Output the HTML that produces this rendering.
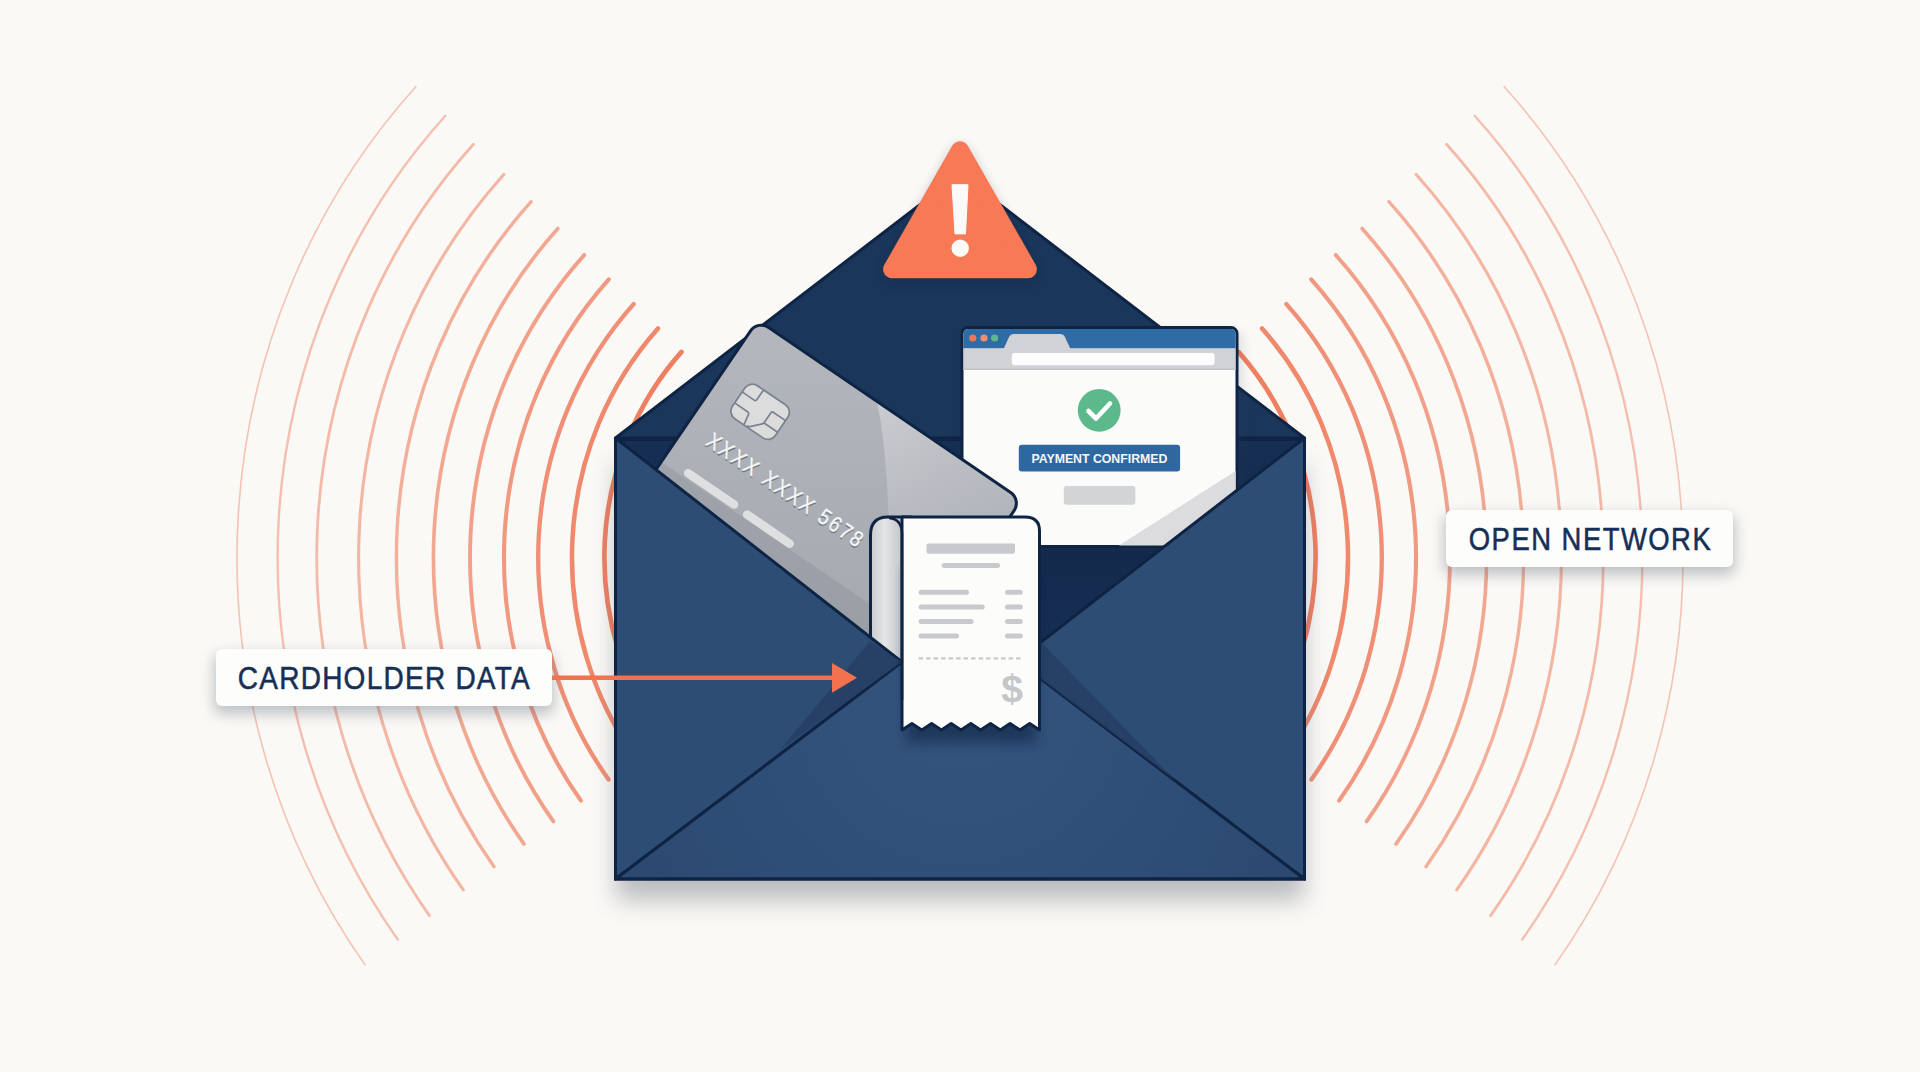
<!DOCTYPE html>
<html><head><meta charset="utf-8">
<style>
html,body{margin:0;padding:0;width:1920px;height:1072px;overflow:hidden;background:#faf9f6;}
svg{display:block;}
text{font-family:"Liberation Sans",sans-serif;}
</style></head>
<body>
<svg width="1920" height="1072" viewBox="0 0 1920 1072">
<defs>
  <filter id="blur12" x="-20%" y="-20%" width="140%" height="140%"><feGaussianBlur stdDeviation="12"/></filter>
  <filter id="blur6" x="-30%" y="-30%" width="160%" height="160%"><feGaussianBlur stdDeviation="6"/></filter>
  <filter id="blur7" x="-30%" y="-30%" width="160%" height="160%"><feGaussianBlur stdDeviation="7"/></filter>
  <filter id="blur4" x="-30%" y="-30%" width="160%" height="160%"><feGaussianBlur stdDeviation="4"/></filter>
  <linearGradient id="cardg" x1="0" y1="0" x2="1" y2="1">
    <stop offset="0" stop-color="#b4b7bd"/><stop offset="1" stop-color="#a3a7ae"/>
  </linearGradient>
  <linearGradient id="rollg" x1="0" y1="0" x2="1" y2="0">
    <stop offset="0" stop-color="#c9cacd"/><stop offset="0.35" stop-color="#e4e5e7"/><stop offset="0.6" stop-color="#d2d3d6"/><stop offset="1" stop-color="#b5b7bb"/>
  </linearGradient>
  <linearGradient id="pocketg" x1="0" y1="0" x2="0" y2="1">
    <stop offset="0" stop-color="#172f54"/><stop offset="0.25" stop-color="#13294c"/><stop offset="0.5" stop-color="#182f55"/><stop offset="1" stop-color="#1a3358"/>
  </linearGradient>
  <radialGradient id="bottomg" cx="960" cy="700" r="380" gradientUnits="userSpaceOnUse">
    <stop offset="0" stop-color="#34547e"/><stop offset="0.6" stop-color="#2f4e77"/><stop offset="1" stop-color="#2b4870"/>
  </radialGradient>
  <linearGradient id="sheeng" x1="150" y1="0" x2="330" y2="60" gradientUnits="userSpaceOnUse">
    <stop offset="0" stop-color="#ffffff" stop-opacity="0.32"/><stop offset="0.5" stop-color="#ffffff" stop-opacity="0.16"/><stop offset="1" stop-color="#ffffff" stop-opacity="0.06"/>
  </linearGradient>
  <clipPath id="envclip"><rect x="614" y="300" width="692" height="580"/></clipPath>
</defs>
<rect width="1920" height="1072" fill="#faf9f6"/>

<!-- arcs -->
<g fill="none" stroke="#ee7858" stroke-linecap="round">
<path d="M415.8 86.7A657.0 686.6 0 0 0 364.9 964.6" stroke-width="1.60" stroke-opacity="0.42"/>
<path d="M1504.2 86.7A657.0 686.6 0 0 1 1555.1 964.6" stroke-width="1.60" stroke-opacity="0.42"/>
<path d="M445.2 116.0A616.4 644.1 0 0 0 397.8 939.6" stroke-width="2.38" stroke-opacity="0.45"/>
<path d="M1474.8 116.0A616.4 644.1 0 0 1 1522.2 939.6" stroke-width="2.38" stroke-opacity="0.45"/>
<path d="M473.5 144.2A577.3 603.3 0 0 0 429.4 915.6" stroke-width="2.78" stroke-opacity="0.49"/>
<path d="M1446.5 144.2A577.3 603.3 0 0 1 1490.6 915.6" stroke-width="2.78" stroke-opacity="0.49"/>
<path d="M503.8 174.5A535.4 559.5 0 0 0 463.3 889.9" stroke-width="3.11" stroke-opacity="0.53"/>
<path d="M1416.2 174.5A535.4 559.5 0 0 1 1456.7 889.9" stroke-width="3.11" stroke-opacity="0.53"/>
<path d="M531.1 201.7A497.6 520.0 0 0 0 493.9 866.6" stroke-width="3.39" stroke-opacity="0.58"/>
<path d="M1388.9 201.7A497.6 520.0 0 0 1 1426.1 866.6" stroke-width="3.39" stroke-opacity="0.58"/>
<path d="M557.9 228.5A460.5 481.2 0 0 0 523.9 843.9" stroke-width="3.65" stroke-opacity="0.64"/>
<path d="M1362.1 228.5A460.5 481.2 0 0 1 1396.1 843.9" stroke-width="3.65" stroke-opacity="0.64"/>
<path d="M584.3 254.9A424.0 443.1 0 0 0 553.4 821.4" stroke-width="3.88" stroke-opacity="0.69"/>
<path d="M1335.7 254.9A424.0 443.1 0 0 1 1366.6 821.4" stroke-width="3.88" stroke-opacity="0.69"/>
<path d="M608.8 279.4A390.1 407.7 0 0 0 580.9 800.6" stroke-width="4.10" stroke-opacity="0.75"/>
<path d="M1311.2 279.4A390.1 407.7 0 0 1 1339.1 800.6" stroke-width="4.10" stroke-opacity="0.75"/>
<path d="M633.6 304.1A355.8 371.8 0 0 0 608.6 779.5" stroke-width="4.31" stroke-opacity="0.82"/>
<path d="M1286.4 304.1A355.8 371.8 0 0 1 1311.4 779.5" stroke-width="4.31" stroke-opacity="0.82"/>
<path d="M658.0 328.5A322.0 336.5 0 0 0 636.0 758.8" stroke-width="4.51" stroke-opacity="0.88"/>
<path d="M1262.0 328.5A322.0 336.5 0 0 1 1284.0 758.8" stroke-width="4.51" stroke-opacity="0.88"/>
<path d="M681.5 351.9A289.6 302.6 0 0 0 662.2 738.9" stroke-width="4.70" stroke-opacity="0.95"/>
<path d="M1238.5 351.9A289.6 302.6 0 0 1 1257.8 738.9" stroke-width="4.70" stroke-opacity="0.95"/>
</g>

<!-- label shadows + labels -->
<rect x="214" y="654" width="340" height="60" rx="8" fill="#6d7382" opacity="0.42" filter="url(#blur7)"/>
<rect x="216" y="649" width="336" height="57" rx="6" fill="#fdfdfc"/>
<text x="0" y="0" transform="translate(237.8,688.7) scale(0.87,1)" font-size="32.2" fill="#172f55" stroke="#172f55" stroke-width="0.55" textLength="335.5" lengthAdjust="spacing">CARDHOLDER DATA</text>

<rect x="1444" y="515" width="291" height="60" rx="8" fill="#6d7382" opacity="0.42" filter="url(#blur7)"/>
<rect x="1446" y="510" width="287" height="57" rx="6" fill="#fdfdfc"/>
<text x="0" y="0" transform="translate(1468.8,549.6) scale(0.87,1)" font-size="31.5" fill="#172f55" stroke="#172f55" stroke-width="0.55" textLength="278" lengthAdjust="spacing">OPEN NETWORK</text>

<!-- envelope shadow -->
<rect x="616" y="466" width="688" height="434" fill="#5b6170" opacity="0.4" filter="url(#blur12)"/>

<!-- back flap -->
<polygon points="615.5,438 960,174 1304.5,438" fill="#1a365a" stroke="#0f2444" stroke-width="3" stroke-linejoin="round"/>

<!-- warning triangle -->
<polygon points="960.0,150.2 892.1,269.3 1027.9,269.3" fill="#0b1830" stroke="#0b1830" stroke-width="18" stroke-linejoin="round" opacity="0.22" filter="url(#blur6)" transform="translate(0,4)"/>
<polygon points="960.0,150.2 892.1,269.3 1027.9,269.3" fill="#f77955" stroke="#f77955" stroke-width="18" stroke-linejoin="round"/>
<path d="M952 184.7 H968 L965.5 233.9 H955 Z" fill="#fbfaf8" stroke="#fbfaf8" stroke-width="1" stroke-linejoin="round"/>
<circle cx="960.2" cy="248.2" r="8.7" fill="#fbfaf8"/>

<!-- pocket interior -->
<rect x="615" y="438" width="690" height="441" fill="url(#pocketg)"/>
<line x1="615" y1="439.5" x2="1305" y2="439.5" stroke="#0f2444" stroke-width="3"/>

<!-- browser -->
<rect x="966" y="332" width="276" height="215" rx="8" fill="#3a4150" opacity="0.16" filter="url(#blur6)"/>
<g>
  <rect x="962" y="327.5" width="275" height="219" rx="6" fill="#fbfbfa" stroke="#0f2444" stroke-width="3"/>
  <path d="M963.5 348.5 V334 Q963.5 329 968.5 329 H1230.5 Q1235.5 329 1235.5 334 V348.5 Z" fill="#2f6ba5"/>
  <circle cx="972.8" cy="338" r="3.6" fill="#ee7656"/>
  <circle cx="984" cy="338" r="3.6" fill="#f09072"/>
  <circle cx="994.6" cy="338" r="3.6" fill="#5cb88a"/>
  <rect x="963.5" y="348.5" width="272" height="21" fill="#d1d2d5"/>
  <path d="M1003.6 349 L1009 337 Q1010.5 334 1014 334 H1060 Q1063.5 334 1065 337 L1070.5 349 Z" fill="#d1d2d5"/>
  <rect x="1011.8" y="353" width="202.8" height="12.3" rx="3" fill="#fdfdfd"/>
  <rect x="963.5" y="368.5" width="272" height="1.5" fill="#c3c4c7"/>
  <circle cx="1099.2" cy="410.3" r="21.4" fill="#5cb98b"/>
  <path d="M1088.5 411 L1096 418.5 L1110 403.5" fill="none" stroke="#ffffff" stroke-width="4.6" stroke-linecap="round" stroke-linejoin="round"/>
  <rect x="1018.8" y="444.8" width="161.3" height="26.8" rx="3" fill="#2f68a1"/>
  <text x="1099.4" y="462.7" font-size="12.3" font-weight="bold" fill="#f6f7f9" text-anchor="middle" letter-spacing="0">PAYMENT CONFIRMED</text>
  <rect x="1063.8" y="486" width="71.6" height="18.7" rx="3" fill="#d3d4d6"/>
  <polygon points="1119,545.5 1235.6,471 1235.6,492 1165,545.5" fill="#dcdcde"/>
  
</g>

<!-- card -->
<g transform="translate(757.5,318) rotate(34.3)">
  <clipPath id="cardclip"><rect x="1.5" y="1.5" width="319" height="203" rx="13"/></clipPath>
  <rect x="1.5" y="1.5" width="319" height="203" rx="13" fill="url(#cardg)"/>
  <g clip-path="url(#cardclip)">
    <path d="M144 0 C172 26 232 95 292 206 H330 V0 Z" fill="url(#sheeng)"/>
    <rect x="0" y="173" width="330" height="40" fill="#8d929b" opacity="0.45"/>
  </g>
  <rect x="1.5" y="1.5" width="319" height="203" rx="13" fill="none" stroke="#0f2444" stroke-width="3"/>
  <g transform="translate(29,56)">
    <rect x="0" y="0" width="52" height="40" rx="9" fill="#dcdcdd" stroke="#7b8390" stroke-width="1.8"/>
    <path d="M0 13.7 H14.5 Q16.5 13.7 16.5 11.7 V0 M0 27 H16 Q17.5 27 18 29 L20 40 M52 13 H37.5 Q35.5 13 35.5 15 V26 Q35.5 28 34 29.5 L26 38 Q25 39 23 39 M52 27 H36" fill="none" stroke="#7b8390" stroke-width="1.7" stroke-linejoin="round"/>
  </g>
  <text x="0" y="0" transform="translate(28.3,135.4) scale(0.86,1)" font-size="22" fill="#6f747d" stroke="#6f747d" stroke-width="0.3" textLength="214" lengthAdjust="spacing">XXXX XXXX 5678</text>
  <text x="0" y="0" transform="translate(27.5,134) scale(0.86,1)" font-size="22" fill="#f6f6f6" stroke="#f6f6f6" stroke-width="0.45" textLength="214" lengthAdjust="spacing">XXXX XXXX 5678</text>
  <rect x="26" y="163" width="64" height="8.5" rx="4.2" fill="#dedfe0"/>
  <rect x="98" y="164" width="60" height="8.5" rx="4.2" fill="#dedfe0"/>
</g>

<!-- receipt roll (behind flaps) -->
<path d="M870.5 700 V535 Q870.5 517 888 517 H910 V700 Z" fill="url(#rollg)" stroke="#0f2444" stroke-width="3"/>

<!-- front flaps -->
<g stroke="#0f2444" stroke-width="3" stroke-linejoin="round">
  <polygon points="615.5,438 902,662 615.5,879" fill="#2d4d74"/>
  <polygon points="1304.5,438 1041,642 1030,660 1041,679 1304.5,879" fill="#2d4d74"/>
  <polygon points="615.5,879 902,662 1030,660 1041,679 1304.5,879" fill="url(#bottomg)"/>
</g>
<polygon points="902,662 870,641 780,750" fill="#263f63" opacity="0.85"/>
<polygon points="1041,642 1175,780 1041,679" fill="#263f63" opacity="0.85"/>

<!-- receipt paper -->
<path d="M906 735 V560 H1036 V735 Z" fill="#0f2140" opacity="0.55" filter="url(#blur6)" transform="translate(0,8)"/>
<path d="M902 730 V517 H1025 Q1039.5 517 1039.5 531 V730 L1029.7 723.5 L1019.9 730 L1010.1 723.5 L1000.3 730 L990.5 723.5 L980.6 730 L970.8 723.5 L961 730 L951.2 723.5 L941.4 730 L931.6 723.5 L921.8 730 L911.9 723.5 L902 730 Z" fill="#fcfcfb" stroke="#0f2444" stroke-width="3" stroke-linejoin="round"/>
<path d="M889 518 Q902 519 902 534 V700" fill="none" stroke="#0f2444" stroke-width="2.6"/>
<g fill="#c8c9cc">
  <rect x="926.5" y="543.5" width="88.5" height="10.3" rx="2"/>
  <rect x="941.7" y="563" width="58.3" height="5" rx="2.5"/>
  <rect x="918.6" y="589.8" width="50.4" height="5" rx="2.5"/>
  <rect x="918.6" y="604.5" width="66.1" height="5" rx="2.5"/>
  <rect x="918.6" y="618.9" width="54.9" height="5" rx="2.5"/>
  <rect x="918.6" y="633.5" width="40.4" height="5" rx="2.5"/>
  <rect x="1005" y="589.8" width="17.7" height="5" rx="2.5"/>
  <rect x="1005" y="604.5" width="17.7" height="5" rx="2.5"/>
  <rect x="1005" y="618.9" width="17.7" height="5" rx="2.5"/>
  <rect x="1005" y="633.5" width="17.7" height="5" rx="2.5"/>
</g>
<line x1="918.6" y1="658.3" x2="1023" y2="658.3" stroke="#c8c9cc" stroke-width="2.2" stroke-dasharray="4.5 3"/>
<text x="1012" y="701.5" font-size="39" font-weight="bold" fill="#c5c6ca" text-anchor="middle">$</text>

<!-- envelope outline -->
<path d="M615.5 438 V879 H1304.5 V438" fill="none" stroke="#0f2444" stroke-width="3"/>

<!-- arrow -->
<line x1="552" y1="677.7" x2="836" y2="677.7" stroke="#f2714e" stroke-width="4.5"/>
<polygon points="832,663 857,677.8 832,692.8" fill="#f2714e"/>
</svg>
</body></html>
